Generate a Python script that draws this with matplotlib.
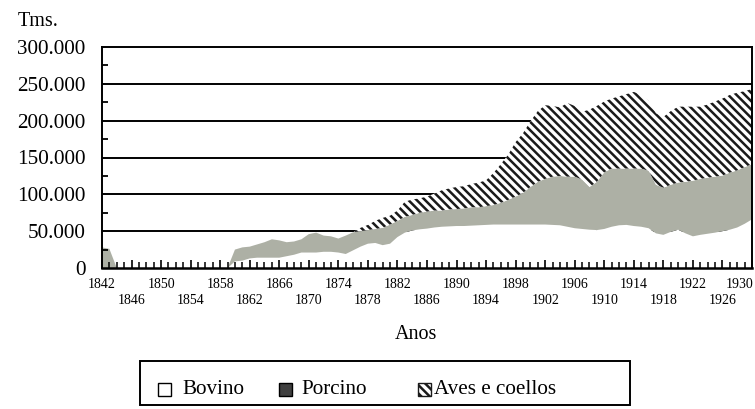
import matplotlib
matplotlib.use('Agg')
import matplotlib.pyplot as plt
import matplotlib.transforms as mtransforms
import numpy as np
from matplotlib.patches import Rectangle
from matplotlib.ticker import MultipleLocator, FixedLocator, FuncFormatter

plt.rcParams['font.family'] = ['Liberation Serif', 'DejaVu Serif']
plt.rcParams['hatch.linewidth'] = 1.8

years = list(range(1842, 1931))

bovino = ([0] * 18 +
          [9000, 10000, 13000, 14000, 14000, 14000, 14000, 16000, 18000, 21000,
           21000, 21000, 22000, 22000, 21000, 19000, 24000, 29000, 33000, 34000,
           31000, 33000, 42000, 48000, 51000, 52500, 53500, 55000, 56000, 56500,
           57000, 57000, 57500, 58000, 58500, 59000, 59000, 59000, 59000, 59000,
           59000, 59000, 59000, 58500, 58000, 56000, 54000, 53000, 52000, 51500,
           53000, 56000, 58000, 58500, 57000, 56000, 54000, 47000, 45000, 49000,
           52000, 47000, 43000, 45000, 46500, 48000, 50000, 52000, 55000, 60000,
           66000])

porcino = ([28000, 26000] + [0] * 16 +
           [16000, 18000, 16000, 18000, 21000, 25000, 23500, 19000, 18000, 18000,
            25000, 27000, 22000, 21000, 19000, 25000, 24500, 21000, 18500, 19000,
            23500, 26000, 22000, 21500, 21000, 22500, 23000, 23000, 22000, 23000,
            23000, 24000, 25000, 24500, 25500, 26500, 29500, 33500, 38000, 43000,
            51000, 58000, 62000, 65500, 67000, 68000, 70000, 67000, 58000, 65500,
            77000, 79000, 77000, 76500, 78000, 79000, 78000, 66000, 64000, 64000,
            64000, 70000, 75500, 76000, 76000, 76000, 75500, 77500, 77500, 77000,
            75000])

aves = ([0] * 35 +
        [4500, 7000, 11000,
         13500, 12000, 14000, 20500, 21000, 19500, 20500, 23000, 27500, 28500,
         30000, 30000, 31500, 33500, 35000, 43500, 52500, 61500, 74000, 81000,
         89000, 96000, 100000, 96000, 93000, 100000, 96000, 92000, 105000, 103000,
         96000, 95000, 98000, 101000, 104000, 100000, 95000, 97000, 96000, 100000,
         103000, 102000, 100500, 98000, 99500, 102000, 104500, 105500, 105500, 103000,
         102000])

series_names = ['Bovino', 'Porcino', 'Aves e coellos']
y_ticks = [0, 50000, 100000, 150000, 200000, 250000, 300000]
x_label_years = list(range(1842, 1931, 4))

W, H = 755, 409
fig = plt.figure(figsize=(W / 100, H / 100), dpi=100)
ax = fig.add_axes([102 / W, 1 - 268 / H, 650 / W, 221 / H])
ax.set_axisbelow(False)

x = np.array(years)
b = np.array(bovino, dtype=float)
p = np.array(porcino, dtype=float)
a = np.array(aves, dtype=float)
c1 = b
c2 = b + p
c3 = b + p + a

grey = '#adb0a5'
hatch_col = '#1a1a1a'

ax.fill_between(x, 0, c1, facecolor='white', edgecolor='none', linewidth=0, zorder=2)
ax.fill_between(x, c1, c2, facecolor=grey, edgecolor='none', linewidth=0, zorder=2)
ax.fill_between(x, c2, c3, facecolor='white', edgecolor=hatch_col, hatch='\\\\\\\\',
                linewidth=0, zorder=2)

ax.set_xlim(1842, 1930)
ax.set_ylim(0, 300000)

for yv in y_ticks[1:-1]:
    ax.axhline(yv, color='black', linewidth=1.4, zorder=1)

for s in ax.spines.values():
    s.set_color('black')
    s.set_linewidth(1.4)
    s.set_zorder(5)
ax.spines['bottom'].set_linewidth(1.8)

ax.yaxis.set_major_locator(FixedLocator(y_ticks))
ax.yaxis.set_minor_locator(FixedLocator([v + 25000 for v in y_ticks[:-1]]))
ax.yaxis.set_major_formatter(FuncFormatter(lambda v, pos: f"{int(v):,}".replace(',', '.')))
ax.tick_params(axis='y', which='major', direction='in', length=0, pad=12,
               labelsize=15.2, colors='black')
ax.tick_params(axis='y', which='minor', direction='in', length=4, width=1.3, colors='black')

ax.xaxis.set_major_locator(FixedLocator(x_label_years))
ax.xaxis.set_minor_locator(MultipleLocator(1))
ax.set_xticklabels([str(yv) if i % 2 == 0 else '' for i, yv in enumerate(x_label_years)])
ax.tick_params(axis='x', which='major', direction='in', length=6, width=1.2, pad=7,
               labelsize=10, colors='black')
ax.tick_params(axis='x', which='minor', direction='in', length=4, width=1.1, colors='black')
xt_labels = ax.get_xticklabels()
xt_labels[-1].set_transform(xt_labels[-1].get_transform() +
                            mtransforms.ScaledTranslation(-12 / 100, 0, fig.dpi_scale_trans))
# second row of year labels
for i, yv in enumerate(x_label_years):
    if i % 2 == 1:
        ax.annotate(str(yv), xy=(yv, 0), xycoords=('data', 'axes fraction'),
                    xytext=(0, -18.5), textcoords='offset points',
                    ha='center', va='top', fontsize=10, annotation_clip=False)
ax.set_xlabel('Anos', fontsize=14.5)
ax.xaxis.set_label_coords((416 - 102) / 650, -(325 - 268) / 221)

fig.text(18 / W, 1 - 21 / H, 'Tms.', fontsize=14.5, ha='left', va='center')

# legend (manual box)
def fx(px):
    return px / W

def fy(py):
    return 1 - py / H

fig.add_artist(Rectangle((fx(140), fy(405)), fx(630) - fx(140), fy(361) - fy(405),
                         transform=fig.transFigure, facecolor='none',
                         edgecolor='black', linewidth=1.4))
sq = 13
ycen = 389
handles = [
    (158, 182, dict(facecolor='white', edgecolor='black', linewidth=1.0)),
    (279, 301, dict(facecolor='#404040', edgecolor='black', linewidth=1.0)),
    (418, 434, dict(facecolor='white', edgecolor=hatch_col, hatch='\\\\\\\\', linewidth=1.0)),
]
for (hx, tx, kw), name in zip(handles, series_names):
    fig.add_artist(Rectangle((fx(hx), fy(ycen + sq / 2)), fx(sq), fy(0) - fy(sq),
                             transform=fig.transFigure, **kw))
    fig.text(fx(tx), fy(ycen), name, fontsize=15.2, ha='left', va='center')

fig.savefig('out.png', dpi=100)
